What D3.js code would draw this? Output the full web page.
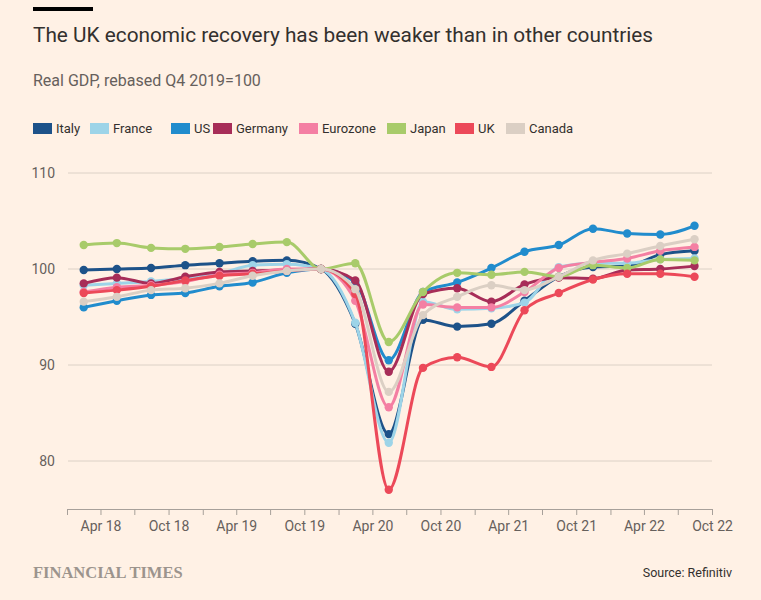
<!DOCTYPE html>
<html>
<head>
<meta charset="utf-8">
<script src="https://cdn.jsdelivr.net/npm/d3@7"></script>
<style>
  html, body { margin: 0; padding: 0; background: #fff1e5; }
  svg { display: block; }
</style>
</head>
<body>
<svg id="chart" width="761" height="600"></svg>
<script>
// ---- Data (Real GDP, rebased Q4 2019 = 100) ----
const quarters = ["2018Q1","2018Q2","2018Q3","2018Q4","2019Q1","2019Q2","2019Q3","2019Q4",
                  "2020Q1","2020Q2","2020Q3","2020Q4","2021Q1","2021Q2","2021Q3","2021Q4",
                  "2022Q1","2022Q2","2022Q3"];
const seriesNames = ["Italy","France","US","Germany","Eurozone","Japan","UK","Canada"];
const italy    = [99.9, 100.0, 100.1, 100.4, 100.6, 100.8, 100.9, 100, 94.3, 82.8, 94.7, 94.0, 94.3, 96.7, 99.2, 100.2, 100.3, 101.5, 101.9];
const france   = [98.3, 98.5, 98.7, 99.0, 99.5, 100.4, 100.5, 100, 94.4, 81.9, 96.6, 95.8, 95.9, 96.5, 100.2, 100.6, 100.6, 101.0, 101.1];
const us       = [96.0, 96.7, 97.3, 97.5, 98.2, 98.6, 99.6, 100, 98.6, 90.5, 97.6, 98.6, 100.1, 101.8, 102.5, 104.2, 103.7, 103.6, 104.5];
const germany  = [98.5, 99.1, 98.5, 99.2, 99.7, 99.8, 99.9, 100, 98.8, 89.3, 97.4, 98.0, 96.6, 98.4, 99.1, 99.0, 99.9, 100.0, 100.3];
const eurozone = [97.6, 98.1, 98.3, 98.7, 99.4, 99.6, 100.0, 100, 96.7, 85.6, 96.3, 96.0, 96.0, 97.6, 100.1, 100.7, 101.1, 101.9, 102.3];
const japan    = [102.5, 102.7, 102.2, 102.1, 102.3, 102.6, 102.8, 100, 100.6, 92.4, 97.6, 99.6, 99.4, 99.7, 99.2, 100.4, 100.1, 101.0, 100.9];
const uk       = [97.5, 97.8, 98.2, 98.8, 99.3, 99.5, 99.8, 100, 97.4, 77.0, 89.7, 90.8, 89.8, 95.7, 97.5, 98.9, 99.5, 99.5, 99.2];
const canada   = [96.6, 97.1, 97.8, 98.0, 98.5, 99.3, 99.8, 100, 97.9, 87.2, 95.2, 97.1, 98.3, 97.8, 99.2, 100.9, 101.6, 102.4, 103.1];
const seriesColors = ["#1d5289","#9dd4e8","#218ccd","#a72d58","#f47fa3","#a8cb6a","#ec4959","#dbcfc4"];
const yTicks = [80, 90, 100, 110];
const xLabelMonths = [3, 9]; // April, October labels

const values = [italy, france, us, germany, eurozone, japan, uk, canada];

// ---- Layout ----
const svg = d3.select("#chart");
const fontMain = "Roboto, 'Open Sans', sans-serif";
const x0 = 67, x1 = 712, axisY = 509;

svg.append("rect").attr("width", 761).attr("height", 600).attr("fill", "#fff1e5");
svg.append("rect").attr("x", 33).attr("y", 7).attr("width", 60).attr("height", 4).attr("fill", "#000");

svg.append("text").attr("x", 33).attr("y", 42)
  .attr("font-family", fontMain).attr("font-size", 20.8).attr("fill", "#33302e")
  .text("The UK economic recovery has been weaker than in other countries");
svg.append("text").attr("x", 33).attr("y", 86)
  .attr("font-family", fontMain).attr("font-size", 16).attr("fill", "#66605c")
  .text("Real GDP, rebased Q4 2019=100");

// Legend
const legendX = [33, 90, 171, 213, 299, 387, 455, 506];
const legend = svg.append("g");
seriesNames.forEach((name, i) => {
  const g = legend.append("g").attr("transform", `translate(${legendX[i]},123)`);
  g.append("rect").attr("width", 19).attr("height", 11).attr("fill", seriesColors[i]);
  g.append("text").attr("x", 23).attr("y", 10)
    .attr("font-family", fontMain).attr("font-size", 13).attr("fill", "#33302e").text(name);
});

// Scales
const parseQ = q => {
  const yr = +q.slice(0, 4), qn = +q.slice(5);
  return new Date(yr, (qn - 1) * 3 + 1, 15);
};
const dates = quarters.map(parseQ);
const x = d3.scaleTime().domain([new Date(2018, 0, 1), new Date(2022, 9, 1)]).range([x0, x1]);
const y = d3.scaleLinear().domain([80, 110]).range([461, 173]);

// Grid + y labels
const grid = svg.append("g");
yTicks.forEach(t => {
  grid.append("line").attr("x1", 68).attr("x2", x1).attr("y1", y(t)).attr("y2", y(t))
    .attr("stroke", "#dcd1c6").attr("stroke-width", 1);
  grid.append("text").attr("x", 55).attr("y", y(t)).attr("dy", "0.35em")
    .attr("text-anchor", "end").attr("font-family", fontMain).attr("font-size", 14)
    .attr("fill", "#66605c").text(t);
});

// X axis
const xAxis = d3.axisBottom(x)
  .ticks(d3.timeMonth.every(3))
  .tickSize(6)
  .tickFormat(d => xLabelMonths.includes(d.getMonth()) ? d3.timeFormat("%b %y")(d) : "");
const gx = svg.append("g").attr("transform", `translate(0,${axisY})`).call(xAxis);
gx.select(".domain").attr("stroke", "#a7a09a").attr("d", `M${x0},0.5H${x1}`);
gx.selectAll(".tick line").attr("stroke", "#a7a09a");
gx.selectAll(".tick text").attr("font-family", fontMain).attr("font-size", 14)
  .attr("fill", "#66605c").attr("dy", "0.95em");

// Lines
const line = d3.line().x((d, i) => x(dates[i])).y(d => y(d)).curve(d3.curveMonotoneX);
const plot = svg.append("g");
values.forEach((vals, s) => {
  const g = plot.append("g");
  g.append("path").attr("d", line(vals)).attr("fill", "none")
    .attr("stroke", seriesColors[s]).attr("stroke-width", 3)
    .attr("stroke-linejoin", "round").attr("stroke-linecap", "round");
  g.selectAll("circle").data(vals).join("circle")
    .attr("cx", (d, i) => x(dates[i])).attr("cy", d => y(d)).attr("r", 4.2)
    .attr("fill", seriesColors[s]);
});

// Footer
svg.append("text").attr("x", 33).attr("y", 578)
  .attr("font-family", "'Liberation Serif', 'DejaVu Serif', serif").attr("font-size", 16.5)
  .attr("font-weight", "bold").attr("fill", "#9c948d").text("FINANCIAL TIMES");
svg.append("text").attr("x", 732).attr("y", 577).attr("text-anchor", "end")
  .attr("font-family", fontMain).attr("font-size", 12.5).attr("fill", "#33302e")
  .text("Source: Refinitiv");
</script>
</body>
</html>
